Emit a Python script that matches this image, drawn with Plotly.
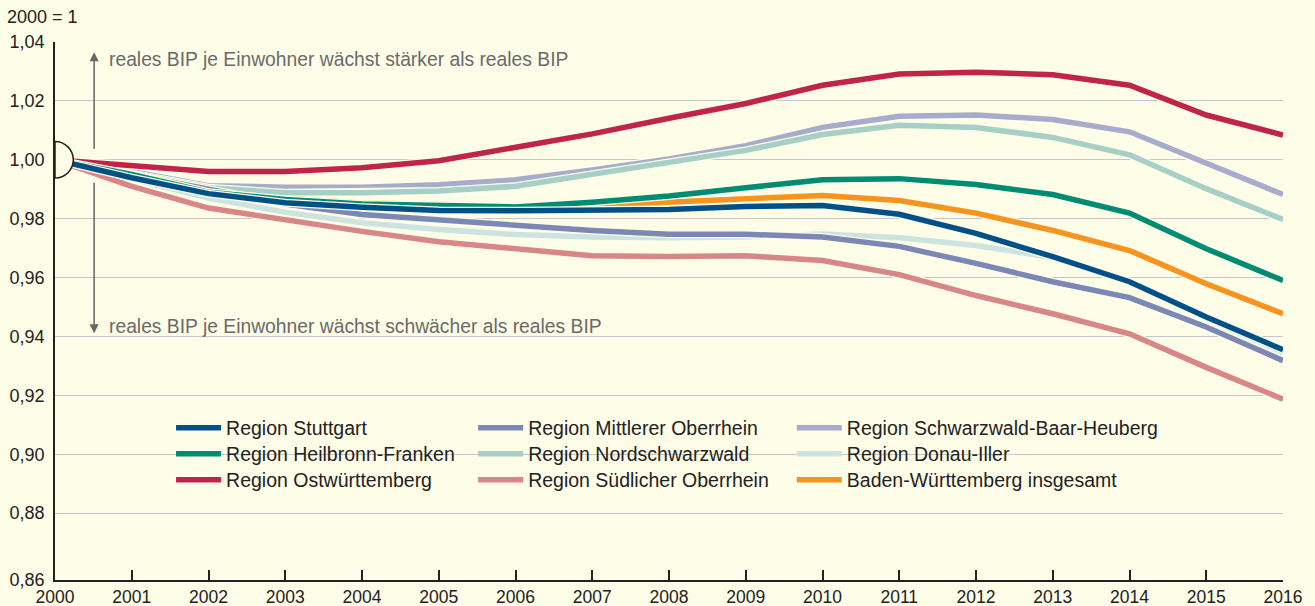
import plotly.graph_objects as go

years = list(range(2000, 2017))

stuttgart = [1.000, 0.9939, 0.9885, 0.9854, 0.9839, 0.9828, 0.9827, 0.9830, 0.9831, 0.9841, 0.9845, 0.9815, 0.9750, 0.9671, 0.9586, 0.9466, 0.9355]
heilbronn_franken = [1.000, 0.9950, 0.9890, 0.9865, 0.9850, 0.9845, 0.9840, 0.9856, 0.9877, 0.9905, 0.9932, 0.9936, 0.9916, 0.9882, 0.9819, 0.9698, 0.9590]
ostwuerttemberg = [1.000, 0.9980, 0.9960, 0.9960, 0.9973, 0.9997, 1.0043, 1.0088, 1.0141, 1.0191, 1.0253, 1.0291, 1.0297, 1.0289, 1.0253, 1.0152, 1.0084]
mittlerer_oberrhein = [1.000, 0.9950, 0.9896, 0.9850, 0.9814, 0.9796, 0.9774, 0.9760, 0.9747, 0.9747, 0.9738, 0.9706, 0.9648, 0.9586, 0.9532, 0.9432, 0.9318]
nordschwarzwald = [1.000, 0.9955, 0.9905, 0.9888, 0.9888, 0.9894, 0.9910, 0.9950, 0.9988, 1.0032, 1.0086, 1.0117, 1.0110, 1.0076, 1.0017, 0.9902, 0.9797]
suedlicher_oberrhein = [1.000, 0.9910, 0.9836, 0.9796, 0.9757, 0.9722, 0.9700, 0.9674, 0.9672, 0.9674, 0.9658, 0.9610, 0.9539, 0.9477, 0.9409, 0.9295, 0.9187]
schwarzwald_baar_heuberg = [1.000, 0.9960, 0.9912, 0.9907, 0.9907, 0.9915, 0.9932, 0.9965, 1.0003, 1.0048, 1.0110, 1.0148, 1.0152, 1.0137, 1.0095, 0.9986, 0.9882]
donau_iller = [1.000, 0.9935, 0.9870, 0.9822, 0.9786, 0.9763, 0.9746, 0.9738, 0.9735, 0.9738, 0.9748, 0.9735, 0.9709, 0.9668, 0.9584, 0.9462, 0.9345]
baden_wuerttemberg = [1.000, 0.9950, 0.9885, 0.9869, 0.9853, 0.9848, 0.9841, 0.9845, 0.9856, 0.9868, 0.9879, 0.9862, 0.9819, 0.9760, 0.9692, 0.9579, 0.9477]

y_tick_values = [0.86, 0.88, 0.90, 0.92, 0.94, 0.96, 0.98, 1.00, 1.02, 1.04]
y_tick_labels = ["0,86", "0,88", "0,90", "0,92", "0,94", "0,96", "0,98", "1,00", "1,02", "1,04"]
x_tick_values = years
x_tick_labels = [str(y) for y in years]

BG = "#FEFDE8"
Y_BOTTOM = 0.8573
Y_TOP = 1.04

# legend grid: column left edges and row centres (paper coordinates)
LEG_COL_X = [0.0945, 0.3405, 0.6000]
LEG_ROW_Y = [0.2825, 0.2342, 0.1859]

# (name, values, colour, legend column, legend row) in drawing order: bottom -> top
series = [
    ("Baden-Württemberg insgesamt", baden_wuerttemberg, "#F7941E", 2, 2),
    ("Region Donau-Iller", donau_iller, "#CCE3E0", 2, 1),
    ("Region Schwarzwald-Baar-Heuberg", schwarzwald_baar_heuberg, "#A7ACCC", 2, 0),
    ("Region Südlicher Oberrhein", suedlicher_oberrhein, "#D88686", 1, 2),
    ("Region Nordschwarzwald", nordschwarzwald, "#A6CFC6", 1, 1),
    ("Region Mittlerer Oberrhein", mittlerer_oberrhein, "#7B88B5", 1, 0),
    ("Region Ostwürttemberg", ostwuerttemberg, "#C02448", 0, 2),
    ("Region Heilbronn-Franken", heilbronn_franken, "#008C72", 0, 1),
    ("Region Stuttgart", stuttgart, "#005088", 0, 0),
]

leg_common = dict(xanchor="left", yanchor="middle", bgcolor="rgba(0,0,0,0)",
                  font=dict(family="Liberation Sans, Arial, sans-serif", size=19.5, color="#222222"),
                  itemwidth=45, tracegroupgap=0, orientation="v")

fig = go.Figure()
legend_layouts = {}
for i, (name, vals, col, lc, lr) in enumerate(series):
    lname = "legend" if i == 0 else f"legend{i + 1}"
    legend_layouts[lname] = dict(x=LEG_COL_X[lc], y=LEG_ROW_Y[lr], **leg_common)
    fig.add_trace(go.Scatter(x=years, y=vals, mode="lines", showlegend=False, hoverinfo="skip",
                             line=dict(color=BG, width=8)))
    fig.add_trace(go.Scatter(x=years, y=vals, mode="lines", name=name, legend=lname,
                             line=dict(color=col, width=5.5)))

r = 18.3
k = 0.5523 * r
semi = f"M0,{r} C{k},{r} {r},{k} {r},0 C{r},{-k} {k},{-r} 0,{-r} Z"

fig.update_layout(
    width=1315, height=606,
    paper_bgcolor=BG, plot_bgcolor=BG,
    margin=dict(l=55, r=32, t=42, b=26),
    font=dict(family="Liberation Sans, Arial, sans-serif", size=18, color="#222222"),
    xaxis=dict(range=[2000, 2016], tickvals=x_tick_values, ticktext=x_tick_labels,
               showgrid=False, zeroline=False, showline=True, linecolor="#222222", linewidth=1.5,
               ticks="inside", ticklen=10, tickwidth=1.5, tickcolor="#222222",
               tickfont=dict(size=17.5), fixedrange=True, automargin=False),
    yaxis=dict(range=[Y_BOTTOM, Y_TOP],
               tickvals=[Y_BOTTOM] + y_tick_values[1:], ticktext=y_tick_labels,
               showgrid=True, gridcolor="#C6C6CE", gridwidth=1.3, zeroline=False,
               showline=True, linecolor="#222222", linewidth=1.5, ticks="",
               ticklabelstandoff=5, tickfont=dict(size=18), fixedrange=True, automargin=False),
    shapes=[dict(type="path", xref="x", yref="y", xsizemode="pixel", ysizemode="pixel",
                 xanchor=2000, yanchor=1.0, path=semi, fillcolor=BG,
                 line=dict(color="#222222", width=1.5), layer="above")],
    annotations=[
        dict(xref="paper", yref="paper", x=-0.041, y=1.046, xanchor="left", yanchor="middle",
             text="2000 = 1", showarrow=False, font=dict(size=18, color="#222222")),
        dict(x=2000.51, y=1.0365, ax=2000.51, ay=1.0032, xref="x", yref="y", axref="x", ayref="y",
             text="", showarrow=True, arrowhead=2, arrowsize=1.2, arrowwidth=1.5, arrowcolor="#666666"),
        dict(x=2000.51, y=0.9411, ax=2000.51, ay=0.9927, xref="x", yref="y", axref="x", ayref="y",
             text="", showarrow=True, arrowhead=2, arrowsize=1.2, arrowwidth=1.5, arrowcolor="#666666"),
        dict(x=2000.68, y=1.0341, xref="x", yref="y", xanchor="left", yanchor="middle", showarrow=False,
             text="reales BIP je Einwohner wächst stärker als reales BIP",
             font=dict(size=19.3, color="#6A6A6A")),
        dict(x=2000.68, y=0.9435, xref="x", yref="y", xanchor="left", yanchor="middle", showarrow=False,
             text="reales BIP je Einwohner wächst schwächer als reales BIP",
             font=dict(size=19.3, color="#6A6A6A")),
    ],
)
fig.update_layout(**legend_layouts)

fig.write_html("out.html", config={"displayModeBar": False},
               post_script="document.body.style.margin='0px';")
